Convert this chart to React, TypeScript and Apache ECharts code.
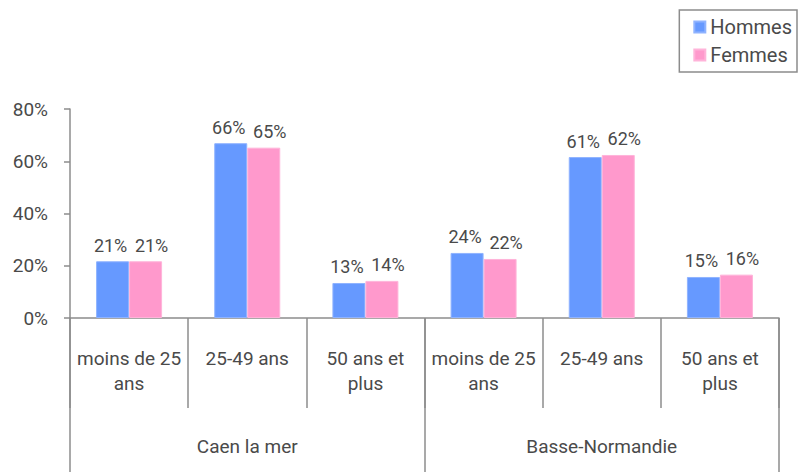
import React, { useEffect, useRef } from "react";
import * as echarts from "echarts";

const categories = ["moins de 25\nans", "25-49 ans", "50 ans et\nplus", "moins de 25\nans", "25-49 ans", "50 ans et\nplus"];
const groups = ["Caen la mer", "Basse-Normandie"];
const hommes = [21.7, 66.9, 13.4, 24.9, 61.6, 15.7];
const femmes = [21.7, 65.2, 14.2, 22.6, 62.4, 16.6];
const yTicks = { min: 0, max: 80, interval: 20 };

const FONT = "Roboto";
const TXT = "#4a4a4a";
const AX = "#8c8c8c";
const W = "normal";

export default function App() {
  const ref = useRef<HTMLDivElement>(null);
  useEffect(() => {
    if (!ref.current) return;
    const chart = echarts.init(ref.current, null, { renderer: "svg" });
    const lbl = (dx: number) => ({
      show: true,
      position: "top",
      distance: 7,
      offset: [dx, 0],
      color: TXT,
      fontSize: 18,
      fontWeight: W,
      fontFamily: FONT,
      formatter: (p: any) => Math.floor(p.value) + "%",
    });
    chart.setOption({
      animation: false,
      textStyle: { fontFamily: FONT, color: TXT },
      grid: { left: 70, right: 19, top: 109, bottom: 154, containLabel: false },
      legend: {
        data: ["Hommes", "Femmes"],
        orient: "vertical",
        right: 1,
        top: 10,
        borderColor: AX,
        borderWidth: 1.5,
        padding: [7, 5, 7, 14],
        itemGap: 8,
        itemWidth: 11,
        itemHeight: 11,
        icon: "rect",
        textStyle: { fontSize: 20, color: TXT, fontFamily: FONT, fontWeight: W },
      },
      xAxis: [
        {
          type: "category",
          data: categories,
          position: "bottom",
          axisLine: { show: true, lineStyle: { color: AX, width: 1.5 } },
          axisTick: { show: true, interval: 0, length: 90, lineStyle: { color: AX, width: 1.5 } },
          axisLabel: { interval: 0, margin: 28, lineHeight: 25, fontSize: 19, color: TXT, fontFamily: FONT, fontWeight: W },
        },
        {
          type: "category",
          data: groups,
          position: "bottom",
          axisLine: { show: false },
          axisTick: { show: true, interval: 0, length: 154, lineStyle: { color: AX, width: 1.5 } },
          axisLabel: { interval: 0, margin: 119, fontSize: 19, color: TXT, fontFamily: FONT, fontWeight: W },
        },
      ],
      yAxis: {
        type: "value",
        min: yTicks.min,
        max: yTicks.max,
        interval: yTicks.interval,
        axisLine: { show: true, lineStyle: { color: AX, width: 1.5 } },
        axisTick: { show: true, length: 6, lineStyle: { color: AX, width: 1.5 } },
        splitLine: { show: false },
        axisLabel: { formatter: "{value}%", margin: 22, fontSize: 19, color: TXT, fontFamily: FONT, fontWeight: W },
      },
      series: [
        {
          name: "Hommes",
          type: "bar",
          data: hommes,
          barWidth: 33,
          barGap: "0%",
          itemStyle: { color: "#6699FF", borderColor: "#8fb3ff", borderWidth: 1 },
          label: lbl(-2),
        },
        {
          name: "Femmes",
          type: "bar",
          data: femmes,
          barWidth: 33,
          itemStyle: { color: "#FF99CC", borderColor: "#ffb3d9", borderWidth: 1 },
          label: lbl(6),
        },
      ],
    });
    return () => chart.dispose();
  }, []);
  return <div ref={ref} style={{ width: 798, height: 472, position: "absolute", left: 0, top: 0 }} />;
}
